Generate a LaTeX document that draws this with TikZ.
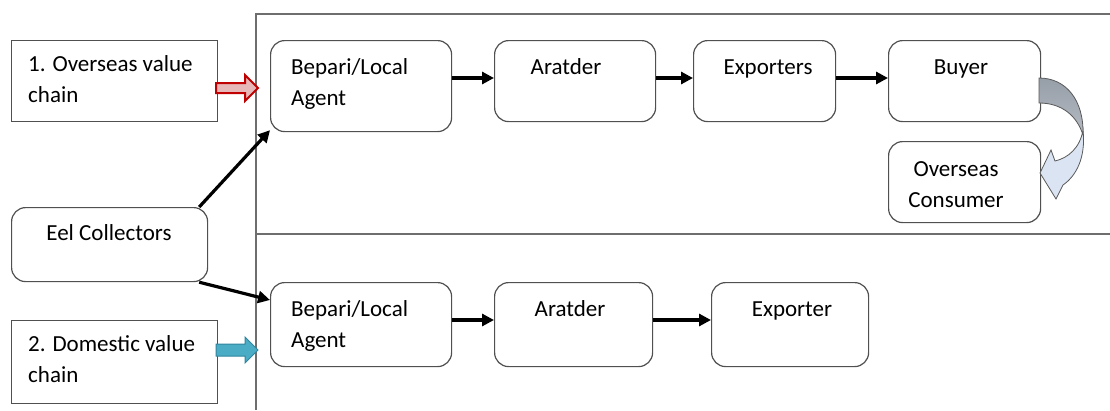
\documentclass[tikz,border=0pt]{standalone}
\usepackage{fontspec}
\setmainfont{Carlito}
\usetikzlibrary{arrows.meta,calc}
\definecolor{boxline}{RGB}{80,80,80}
\definecolor{frameline}{RGB}{110,110,110}
\definecolor{redfill}{RGB}{230,185,184}
\definecolor{redline}{RGB}{192,0,0}
\definecolor{tealfill}{RGB}{75,172,198}
\definecolor{tealline}{RGB}{49,133,156}
\definecolor{graytop}{RGB}{150,158,168}
\definecolor{bluebot}{RGB}{218,228,242}
\tikzset{
  sqbox/.style={draw=boxline,line width=1.2pt,fill=white,minimum width=#1,inner sep=0pt,anchor=north west},
  rbox/.style={draw=boxline,line width=1.2pt,fill=white,rounded corners=14pt,inner sep=0pt,anchor=north west},
  txt/.style={font=\fontsize{23}{31}\selectfont,inner sep=0pt,text=black},
  arr/.style={line width=3.2pt,-{Triangle[length=12pt,width=12pt]}},
  frm/.style={draw=frameline,line width=1.5pt}
}
\begin{document}
\begin{tikzpicture}[x=1pt,y=-1pt]
\useasboundingbox (0,0) rectangle (1110,410);
% frame
\draw[frm] (256,410) -- (256,14) -- (1110,14);
\draw[frm] (256,234) -- (1110,234);
% boxes
\node[sqbox=206pt,minimum height=81pt] (ov) at (11,40) {};
\node[sqbox=206pt,minimum height=83pt] (dom) at (11,320) {};
\node[rbox,minimum width=196pt,minimum height=74pt] (eel) at (11,207) {};
\node[rbox,minimum width=181pt,minimum height=91pt] (b1) at (270,40) {};
\node[rbox,minimum width=161pt,minimum height=81pt] (a1) at (494,40) {};
\node[rbox,minimum width=142pt,minimum height=81pt] (ex1) at (693,40) {};
\node[rbox,minimum width=152pt,minimum height=81pt] (buy) at (888,40) {};
\node[rbox,minimum width=152pt,minimum height=81pt] (cons) at (888,141) {};
\node[rbox,minimum width=181pt,minimum height=84pt] (b2) at (270,282) {};
\node[rbox,minimum width=158pt,minimum height=84pt] (a2) at (494,282) {};
\node[rbox,minimum width=157pt,minimum height=84pt] (ex2) at (711,282) {};
% texts (base anchor = last line baseline)
\node[txt,anchor=base west,align=left] (tov) at (28,102) {1. Overseas value\\chain};
\node[txt,anchor=base west,align=left] (tdom) at (28,382) {2. Domestic value\\chain};
\node[txt,anchor=base] (teel) at (109,240) {Eel Collectors};
\node[txt,anchor=base west,align=left] (tb1) at (291,105) {Bepari/Local\\Agent};
\node[txt,anchor=base] (ta1) at (566,74) {Aratder};
\node[txt,anchor=base] (tex1) at (768,74) {Exporters};
\node[txt,anchor=base] (tbuy) at (961,74) {Buyer};
\node[txt,anchor=base,align=center] (tcons) at (956,207) {Overseas\\Consumer};
\node[txt,anchor=base west,align=left] (tb2) at (291,347) {Bepari/Local\\Agent};
\node[txt,anchor=base] (ta2) at (570,316) {Aratder};
\node[txt,anchor=base] (tex2) at (792,316) {Exporter};
% chain arrows
\draw[arr] (b1.east |- 0,78) -- (a1.west |- 0,78);
\draw[arr] (a1.east |- 0,78) -- (ex1.west |- 0,78);
\draw[arr] (ex1.east |- 0,78) -- (buy.west |- 0,78);
\draw[arr] (b2.east |- 0,320) -- (a2.west |- 0,320);
\draw[arr] (a2.east |- 0,320) -- (ex2.west |- 0,320);
\draw[arr] ($(eel.north east)+(-9,0)$) -- ($(b1.south west)+(0,-2)$);
\draw[arr] ($(eel.south east)+(-9,0)$) -- (b2.west |- 0,300);
% block arrows
\draw[draw=redline,fill=redfill,line width=2pt,line join=miter]
  (216,83) -- (245,83) -- (245,75) -- (258,88) -- (245,101) -- (245,93) -- (216,93) -- cycle;
\draw[draw=tealline,fill=tealfill,line width=1pt]
  (216,344) -- (245,344) -- (245,337) -- (258,350) -- (245,363) -- (245,356) -- (216,356) -- cycle;
% curved arrow buyer -> consumer
\draw[draw=gray!70!black,line width=0.8pt,fill=bluebot]
  (1083,130) .. controls (1086,158) and (1076,176) .. (1063,185)
  -- (1056,199) -- (1040,173) -- (1051,150) -- (1055,161)
  .. controls (1068,158) and (1080,148) .. (1083,130) -- cycle;
\draw[draw=gray!70!black,line width=0.8pt,top color=graytop,bottom color=graytop!70!white]
  (1039,78) .. controls (1066,78) and (1084,100) .. (1083,135)
  .. controls (1077,116) and (1062,103) .. (1039,103) -- cycle;
\end{tikzpicture}
\end{document}
